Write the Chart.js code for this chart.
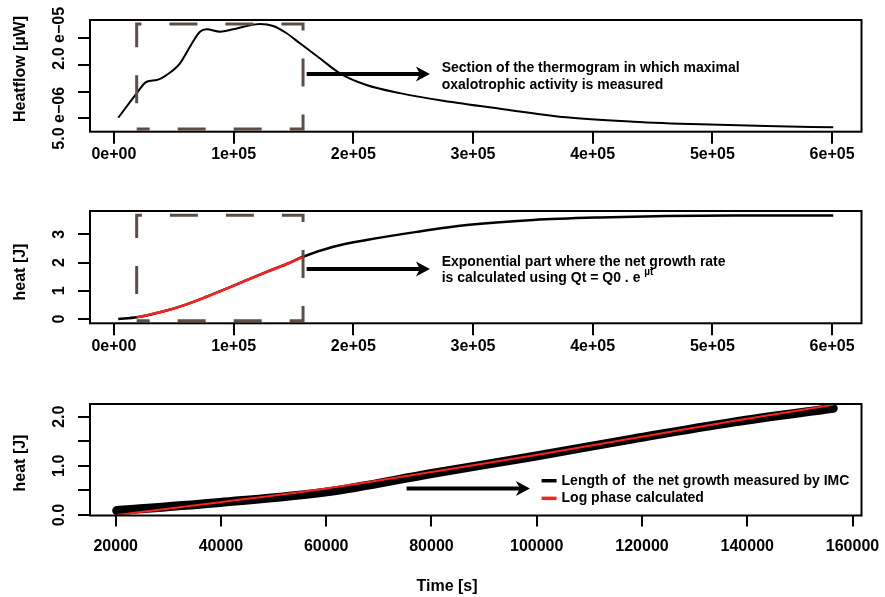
<!DOCTYPE html>
<html>
<head>
<meta charset="utf-8">
<script src="https://cdn.jsdelivr.net/npm/chart.js@4.4.1/dist/chart.umd.min.js"></script>
<style>
    body { margin: 0; background: #fff; }
    .panel { position: absolute; left: 0; display: block; }
</style>
</head>
<body>
<canvas id="flow-chart" class="panel" width="885" height="190" style="top:0"></canvas>
<canvas id="heat-chart" class="panel" width="885" height="190" style="top:190px"></canvas>
<canvas id="log-chart" class="panel" width="885" height="217" style="top:380px"></canvas>
<script>
// thermogram (heat flow)
const flowTime = [3600, 19000, 27300, 35700, 44000, 55200, 63500, 71900, 77500, 88600, 99700, 110900, 122000,
    133100, 144300, 155400, 172000, 188800, 211000, 239000, 275000, 322600, 378000, 434000, 490000, 545000, 601000];
const flowValue = [5.11e-6, 9.69e-6, 11.86e-6, 12.18e-6, 13.12e-6, 15.31e-6, 18.43e-6, 21.24e-6, 21.69e-6, 21.24e-6,
    21.69e-6, 22.31e-6, 22.68e-6, 22.31e-6, 20.94e-6, 19.06e-6, 16.25e-6, 13.44e-6, 11.24e-6, 9.72e-6, 8.3e-6,
    6.8e-6, 5.19e-6, 4.37e-6, 3.87e-6, 3.56e-6, 3.31e-6];
const flowXTicks = [0, 100000, 200000, 300000, 400000, 500000, 600000];
const flowXLabels = ['0e+00', '1e+05', '2e+05', '3e+05', '4e+05', '5e+05', '6e+05'];
const flowYTicks = [5e-6, 1e-5, 1.5e-5, 2e-5];
const flowYLabels = ['5.0 e\u221206', '', '', '2.0 e\u221205'];

// cumulated heat, middle panel
const heatTime = [3600, 19000, 44000, 60700, 77400, 94100, 110900, 127600, 144300, 156900, 183300, 211000, 253000,
    294700, 350400, 406000, 461800, 517500, 601000];
const heatValue = [0.0, 0.06, 0.30, 0.52, 0.79, 1.08, 1.38, 1.67, 1.95, 2.19, 2.56, 2.80, 3.09, 3.33, 3.51, 3.60,
    3.65, 3.67, 3.67];
// exponential section (red)
const expTime = [19000, 44000, 60700, 77400, 94100, 110900, 127600, 144300, 156900];
const expValue = [0.06, 0.30, 0.52, 0.79, 1.08, 1.38, 1.67, 1.95, 2.19];
const heatYTicks = [0, 1, 2, 3];
const heatYLabels = ['0', '1', '2', '3'];

// log phase, bottom panel
const logTime = [20190, 39810, 60090, 80340, 99340, 118340, 137340, 156340];
const logMeasured = [0.09, 0.255, 0.47, 0.85, 1.19, 1.55, 1.89, 2.17];
const logFit = [0.0, 0.26, 0.54, 0.88, 1.21, 1.56, 1.91, 2.24];
const logXTicks = [20000, 40000, 60000, 80000, 100000, 120000, 140000, 160000];
const logXLabels = ['20000', '40000', '60000', '80000', '100000', '120000', '140000', '160000'];
const logYTicks = [0, 0.5, 1, 1.5, 2];
const logYLabels = ['0.0', '', '1.0', '', '2.0'];

// dashed frame around the section of interest
const sectionTime = [19000, 158000];
const sectionFlow = [2.99e-6, 22.68e-6];
const sectionHeat = [-0.06, 3.68];

const FONT_FAMILY = '"Liberation Sans", Arial, sans-serif';
const BOX_COLOR = '#5e4e46';

function points(xs, ys) {
    return xs.map((x, i) => ({ x: x, y: ys[i] }));
}

function rectPath(xr, yr) {
    return points([xr[0], xr[1], xr[1], xr[0], xr[0]], [yr[0], yr[0], yr[1], yr[1], yr[0]]);
}

function drawArrow(ctx, x0, x1, y) {
    ctx.strokeStyle = '#000';
    ctx.fillStyle = '#000';
    ctx.lineWidth = 4;
    ctx.beginPath();
    ctx.moveTo(x0, y);
    ctx.lineTo(x1 - 8, y);
    ctx.stroke();
    ctx.beginPath();
    ctx.moveTo(x1, y);
    ctx.lineTo(x1 - 14, y - 7.5);
    ctx.lineTo(x1 - 10, y);
    ctx.lineTo(x1 - 14, y + 7.5);
    ctx.closePath();
    ctx.fill();
}

function framePlugin(spec) {
    return {
        id: 'rframe',
        afterDraw(chart) {
            const { ctx, chartArea: a, scales } = chart;
            ctx.save();
            ctx.strokeStyle = '#000';
            ctx.lineWidth = 2;
            ctx.strokeRect(a.left, a.top, a.right - a.left, a.bottom - a.top);

            ctx.fillStyle = '#000';
            ctx.textAlign = 'center';
            ctx.textBaseline = 'middle';
            ctx.font = `bold 16px ${FONT_FAMILY}`;
            spec.yTicks.forEach((v, i) => {
                if (!spec.yLabels[i]) return;
                ctx.save();
                ctx.translate(60, scales.y.getPixelForValue(v));
                ctx.rotate(-Math.PI / 2);
                ctx.fillText(spec.yLabels[i], 0, 0);
                ctx.restore();
            });

            ctx.save();
            ctx.translate(21, spec.yTitleY);
            ctx.rotate(-Math.PI / 2);
            ctx.fillText(spec.yTitle, 0, 0);
            ctx.restore();

            if (spec.annotate) spec.annotate(chart, ctx);
            ctx.restore();
        },
    };
}

function buildPanel(id, spec) {
    const canvas = document.getElementById(id);
    const height = canvas.height;
    return new Chart(canvas, {
        type: 'scatter',
        data: { datasets: spec.datasets },
        options: {
            responsive: false,
            animation: false,
            events: [],
            layout: { padding: { top: spec.top, right: 23.5, left: 0, bottom: 0 } },
            plugins: { legend: { display: false }, tooltip: { enabled: false } },
            elements: { point: { radius: 0 } },
            scales: {
                x: {
                    type: 'linear',
                    bounds: 'data',
                    min: spec.xMin,
                    max: spec.xMax,
                    afterBuildTicks: s => { s.ticks = spec.xTicks.map(v => ({ value: v })); },
                    afterFit: s => { s.height = height - spec.bottom; },
                    border: { display: false },
                    grid: { drawOnChartArea: false, drawTicks: true, tickLength: spec.xTickLength, color: '#000', lineWidth: 2 },
                    ticks: {
                        autoSkip: false,
                        maxRotation: 0,
                        padding: 2,
                        color: '#000',
                        font: { family: FONT_FAMILY, size: 16, weight: 'bold', lineHeight: spec.xLabelLine },
                        callback: value => spec.xLabels[spec.xTicks.indexOf(value)] ?? '',
                    },
                },
                y: {
                    type: 'linear',
                    bounds: 'data',
                    min: spec.yMin,
                    max: spec.yMax,
                    afterBuildTicks: s => { s.ticks = spec.yTicks.map(v => ({ value: v })); },
                    afterFit: s => { s.width = 90; },
                    border: { display: false },
                    grid: { drawOnChartArea: false, drawTicks: true, tickLength: 12, color: '#000', lineWidth: 2 },
                    ticks: { display: false },
                },
            },
        },
        plugins: [framePlugin(spec)],
    });
}

const curve = { showLine: true, pointRadius: 0, cubicInterpolationMode: 'monotone', fill: false };
const dashedBox = {
    showLine: true, pointRadius: 0, tension: 0, fill: false, borderColor: BOX_COLOR, borderWidth: 3,
    borderDash: [28, 28], borderDashOffset: 15, borderJoinStyle: 'miter', borderCapStyle: 'butt',
};

function annotationText(ctx, x, y, lines) {
    ctx.font = `bold 14px ${FONT_FAMILY}`;
    ctx.textAlign = 'left';
    ctx.textBaseline = 'middle';
    ctx.fillStyle = '#000';
    lines.forEach((line, i) => ctx.fillText(line, x, y + i * 16.5));
}

buildPanel('flow-chart', {
    top: 20, bottom: 131.7, xTickLength: 12, xLabelLine: 1.16,
    xMin: -20000, xMax: 624600, yMin: 2.49e-6, yMax: 23.43e-6,
    xTicks: flowXTicks, xLabels: flowXLabels, yTicks: flowYTicks, yLabels: flowYLabels,
    yTitle: 'Heatflow [\u00b5W]', yTitleY: 69,
    datasets: [
        Object.assign({}, dashedBox, { data: rectPath(sectionTime, sectionFlow), order: 0 }),
        Object.assign({}, curve, { data: points(flowTime, flowValue), borderColor: '#000', borderWidth: 2, order: 1 }),
    ],
    annotate(chart, ctx) {
        const x = chart.scales.x, y = chart.scales.y;
        drawArrow(ctx, x.getPixelForValue(161000), x.getPixelForValue(264000), y.getPixelForValue(13.3e-6));
        annotationText(ctx, x.getPixelForValue(273800), y.getPixelForValue(14.37e-6), [
            'Section of the thermogram in which maximal',
            'oxalotrophic activity is measured',
        ]);
    },
});

buildPanel('heat-chart', {
    top: 21, bottom: 133.3, xTickLength: 12, xLabelLine: 1.16,
    xMin: -20000, xMax: 624600, yMin: -0.152, yMax: 3.83,
    xTicks: flowXTicks, xLabels: flowXLabels, yTicks: heatYTicks, yLabels: heatYLabels,
    yTitle: 'heat [J]', yTitleY: 82,
    datasets: [
        Object.assign({}, curve, { data: points(expTime, expValue), borderColor: '#ff2020', borderWidth: 2.5, order: 0 }),
        Object.assign({}, dashedBox, { data: rectPath(sectionTime, sectionHeat), order: 1 }),
        Object.assign({}, curve, { data: points(heatTime, heatValue), borderColor: '#000', borderWidth: 2.5, order: 2 }),
    ],
    annotate(chart, ctx) {
        const x = chart.scales.x, y = chart.scales.y;
        drawArrow(ctx, x.getPixelForValue(161000), x.getPixelForValue(264000), y.getPixelForValue(1.77));
        const tx = x.getPixelForValue(273800), ty = y.getPixelForValue(2.03);
        annotationText(ctx, tx, ty, [
            'Exponential part where the net growth rate',
            'is calculated using Qt = Q0 . e',
        ]);
        const w = ctx.measureText('is calculated using Qt = Q0 . e ').width;
        ctx.font = `bold 10px ${FONT_FAMILY}`;
        ctx.fillText('\u00b5t', tx + w, ty + 16.5 - 6);
    },
});

buildPanel('log-chart', {
    top: 24, bottom: 135.5, xTickLength: 11, xLabelLine: 2.31,
    xMin: 15120, xMax: 161710, yMin: -0.01, yMax: 2.258,
    xTicks: logXTicks, xLabels: logXLabels, yTicks: logYTicks, yLabels: logYLabels,
    yTitle: 'heat [J]', yTitleY: 83,
    datasets: [
        Object.assign({}, curve, { label: 'Log phase calculated', data: points(logTime, logFit), borderColor: '#ff2020', borderWidth: 2, order: 0 }),
        Object.assign({}, curve, {
            label: 'Length of  the net growth measured by IMC', data: points(logTime, logMeasured),
            borderColor: '#000', borderWidth: 9, borderCapStyle: 'round', order: 1,
        }),
    ],
    annotate(chart, ctx) {
        const x = chart.scales.x, y = chart.scales.y;
        drawArrow(ctx, x.getPixelForValue(75275), x.getPixelForValue(98700), y.getPixelForValue(0.54));
        const sx0 = x.getPixelForValue(100919), sx1 = x.getPixelForValue(103768), tx = x.getPixelForValue(104718);
        const rows = [1, 0].map(i => chart.data.datasets[i]);
        [0.697, 0.339].forEach((v, i) => {
            const py = y.getPixelForValue(v);
            ctx.strokeStyle = rows[i].borderColor;
            ctx.lineWidth = 3.5;
            ctx.beginPath();
            ctx.moveTo(sx0, py);
            ctx.lineTo(sx1, py);
            ctx.stroke();
            annotationText(ctx, tx, py, [rows[i].label]);
        });
        ctx.font = `bold 16px ${FONT_FAMILY}`;
        ctx.textAlign = 'center';
        ctx.fillText('Time [s]', 447, 207);
    },
});
</script>
</body>
</html>
